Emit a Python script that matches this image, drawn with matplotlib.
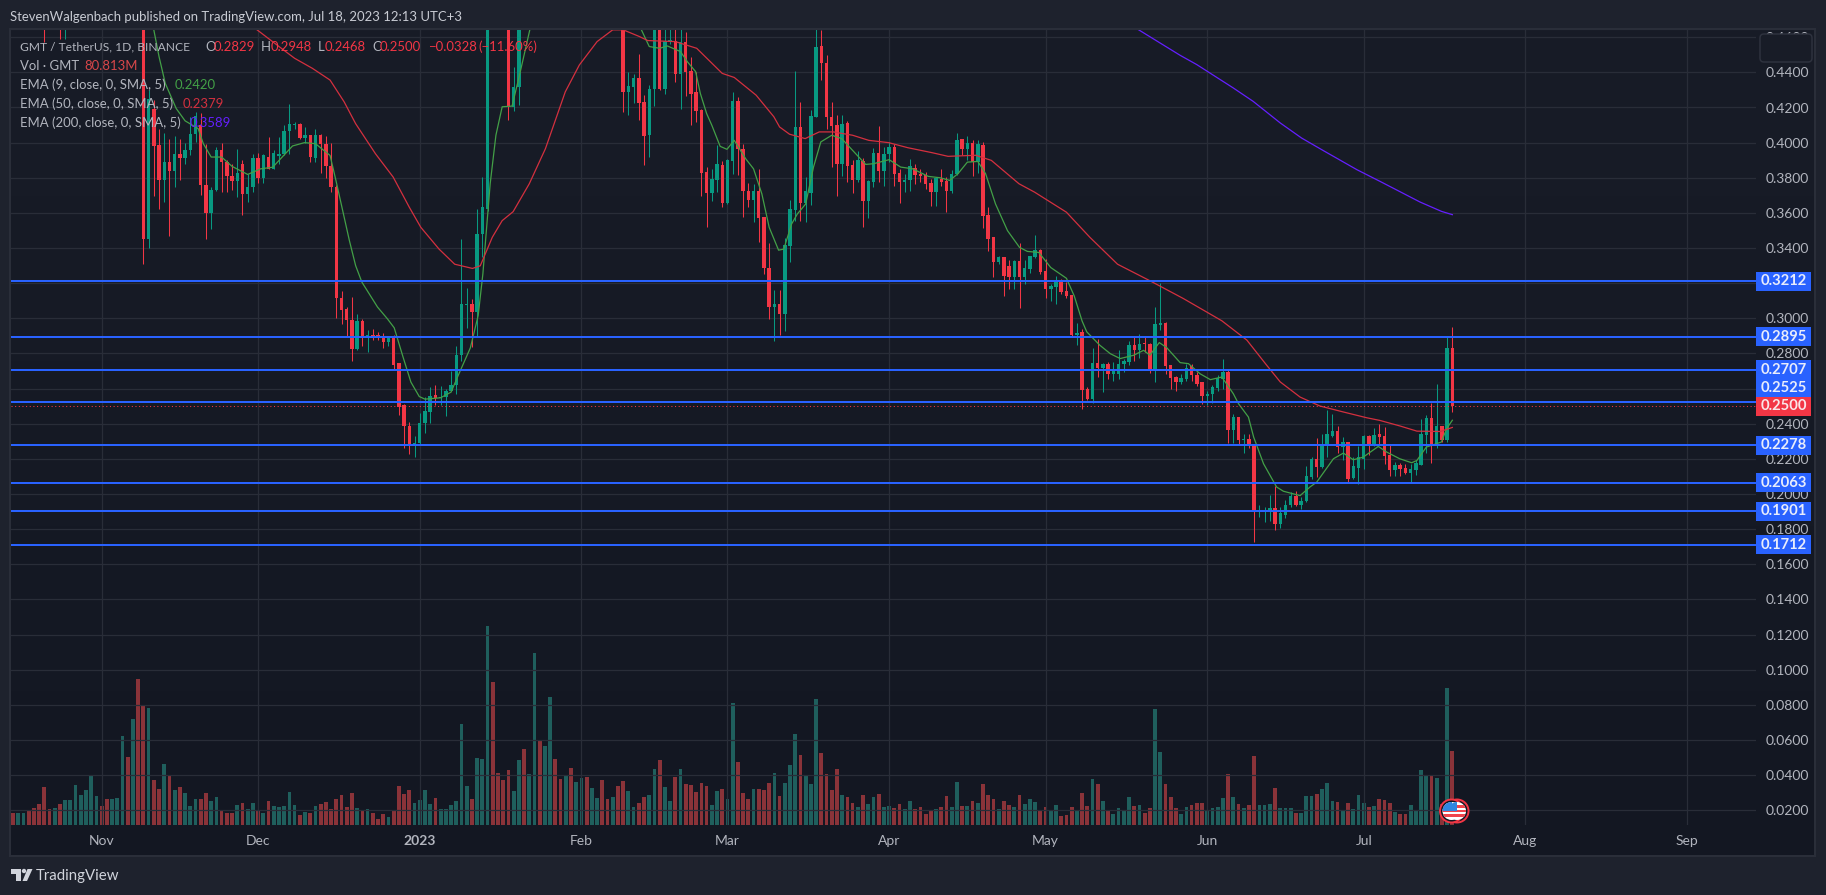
import numpy as np, pandas as pd
from matplotlib import pyplot as plt
from matplotlib import dates as mdates
from matplotlib.patches import Circle, Rectangle, Polygon, FancyBboxPatch
from matplotlib.transforms import IdentityTransform

# daily candles, price values above about 0.464 are out of the frame
opens = [.510,.500,.505,.512,.506,.498,.488,.478,.475,.480,
 .470,.476,.480,.485,.490,.495,.500,.505,.500,.495,
 .500,.505,.540,.530,.560,.520,.345,.4194,.3985,.3785,
 .389,.384,.3933,.391,.396,.405,.410,.376,.360,.3728,
 .396,.389,.381,.378,.388,.371,.3745,.391,.380,.392,
 .385,.3925,.3935,.4065,.410,.4105,.4027,.4042,.3914,.4042,
 .3995,.3867,.375,.3117,.3054,.2993,.2823,.2982,.289,.2906,
 .2905,.2887,.2864,.2893,.2743,.2504,.239,.2276,.2288,.2403,
 .2466,.2561,.2548,.2551,.2586,.2618,.2789,.3075,.3079,.3035,
 .348,.3622,.50,.49,.485,.48,.4204,.4314,.49,.48,
 .50,.53,.52,.54,.58,.56,.54,.56,.54,.56,
 .57,.55,.56,.57,.54,.52,.53,.49,.429,.4315,
 .4369,.4232,.4042,.4308,.468,.4305,.4575,.458,.439,.4575,
 .4408,.4286,.4185,.3834,.3712,.379,.387,.3655,.3893,.4236,
 .3966,.3727,.3676,.3722,.3575,.3289,.3066,.308,.3026,.3413,
 .3619,.4089,.3655,.3712,.4147,.455,.4451,.4147,.4099,.388,
 .4112,.387,.379,.3895,.3665,.3775,.3943,.3836,.3933,.3975,
 .3827,.3775,.3785,.3857,.3819,.3813,.3769,.3718,.3794,.3779,
 .3722,.3819,.4019,.3966,.3998,.3889,.3985,.359,.3465,.3318,
 .335,.3299,.3236,.3327,.3236,.328,.335,.3388,.327,.3166,
 .3181,.3207,.3156,.3131,.2903,.2923,.2596,.2543,.2746,.272,
 .2741,.2682,.2685,.274,.2752,.2847,.2822,.2862,.2856,.2714,
 .2961,.2974,.2733,.2666,.2636,.2656,.2727,.2676,.2636,.2556,
 .2571,.2604,.2657,.2695,.2362,.2438,.2309,.2311,.2281,.1895,
 .1896,.19,.1923,.183,.1883,.1935,.1986,.1938,.1963,.2096,
 .2197,.2153,.2286,.233,.2356,.2267,.2299,.2092,.2149,.22,
 .233,.2277,.2339,.2328,.222,.2134,.2163,.2147,.2121,.2134,
 .2168,.2334,.2434,.2277,.2385,.2305,.2829]
closes = [.500,.505,.512,.506,.498,.488,.478,.475,.480,.470,
 .476,.480,.485,.490,.495,.500,.505,.500,.495,.500,
 .505,.540,.530,.560,.520,.345,.425,.398,.3785,.389,
 .384,.3933,.3915,.396,.405,.415,.376,.360,.3728,.396,
 .389,.381,.378,.3826,.371,.3745,.391,.380,.393,.385,
 .394,.3935,.4065,.4105,.4108,.4027,.4042,.3918,.4042,.3995,
 .3867,.3747,.3114,.305,.2988,.2823,.2982,.2902,.2906,.2896,
 .2887,.2864,.2893,.2737,.2498,.2386,.2276,.2293,.2407,.247,
 .2559,.2548,.2555,.2589,.2623,.2789,.3079,.3079,.3035,.348,
 .3636,.50,.49,.485,.48,.4204,.4314,.49,.48,.50,
 .53,.52,.54,.58,.56,.54,.56,.54,.56,.57,
 .55,.56,.57,.54,.52,.53,.49,.429,.4322,.4369,
 .4227,.4038,.4308,.468,.4305,.458,.4585,.439,.4575,.44,
 .4276,.4179,.383,.3712,.3794,.3876,.3655,.3899,.4236,.3962,
 .3722,.3676,.3722,.3569,.3284,.3066,.308,.3026,.3417,.3623,
 .4089,.3655,.3722,.415,.4547,.4451,.4147,.4093,.388,.4105,
 .3867,.379,.3899,.3665,.3779,.3943,.3836,.3937,.3975,.3819,
 .3775,.3788,.3867,.3813,.3808,.3762,.3718,.3798,.3775,.3722,
 .3823,.4013,.3966,.3998,.3889,.399,.3585,.3451,.3318,.335,
 .3242,.3236,.3327,.3236,.3284,.3356,.3388,.3266,.3166,.3185,
 .3208,.315,.3127,.2903,.2916,.259,.2543,.2746,.272,.2741,
 .2682,.2701,.2742,.2755,.2847,.2822,.2856,.2856,.2714,.2967,
 .2974,.2727,.2661,.2636,.2661,.272,.2676,.2628,.2556,.2571,
 .2609,.2663,.2695,.2362,.2438,.2305,.2314,.2271,.1896,.19,
 .1906,.1923,.183,.1891,.194,.1986,.1938,.1963,.21,.2201,
 .2153,.2286,.2339,.2356,.2267,.2299,.2087,.2157,.221,.233,
 .2277,.2334,.2324,.2216,.2134,.2163,.214,.2121,.214,.2176,
 .2339,.2432,.2277,.2385,.2305,.2829,.25]
highs = [.515,.510,.517,.517,.511,.503,.49,.483,.485,.485,
 .481,.485,.49,.495,.50,.505,.51,.51,.505,.505,
 .51,.545,.545,.565,.565,.525,.43,.424,.408,.4055,
 .402,.404,.4023,.40,.4147,.4175,.417,.3995,.375,.3975,
 .3998,.39,.388,.3965,.39,.382,.3937,.394,.3935,.403,
 .396,.403,.41,.422,.4115,.411,.409,.4045,.4075,.405,
 .404,.40,.376,.3153,.3067,.3124,.3026,.2997,.2935,.294,
 .2921,.2917,.29,.2906,.2745,.2513,.2409,.2333,.2464,.2551,
 .2612,.2623,.2617,.2599,.2698,.284,.3453,.317,.311,.3625,
 .3804,.51,.505,.495,.49,.49,.4432,.50,.495,.505,
 .535,.535,.545,.585,.585,.565,.565,.565,.565,.575,
 .575,.565,.575,.575,.545,.535,.535,.50,.44,.439,
 .4505,.427,.4328,.48,.48,.47,.468,.469,.468,.4627,
 .449,.44,.419,.386,.3848,.3985,.3893,.3906,.4291,.4257,
 .3994,.3769,.3762,.3848,.3577,.3428,.3162,.3162,.3457,.3674,
 .4408,.4232,.3804,.4188,.465,.464,.4499,.4232,.4156,.4156,
 .4122,.3903,.3952,.3914,.3785,.3971,.4093,.3975,.4004,.3994,
 .3851,.3823,.3908,.388,.3851,.3832,.3794,.3804,.3848,.3804,
 .3846,.4057,.402,.4036,.4013,.4013,.4004,.3636,.3465,.3356,
 .335,.3331,.3331,.3428,.3331,.3356,.3476,.3394,.3337,.3194,
 .3242,.3223,.3204,.3135,.2972,.2938,.2609,.2834,.2881,.2743,
 .2752,.2752,.2818,.2771,.287,.2891,.2908,.2891,.2862,.3066,
 .3199,.298,.2735,.267,.2682,.2742,.2742,.2695,.2636,.2587,
 .2619,.2676,.2767,.2704,.2457,.2438,.2339,.2339,.2281,.194,
 .1925,.1997,.2043,.1925,.1967,.201,.202,.1982,.2157,.221,
 .2318,.2339,.2476,.2453,.2385,.2324,.2299,.221,.2271,.2334,
 .2334,.2378,.2396,.2381,.228,.2185,.2176,.2172,.2172,.2195,
 .2429,.2448,.252,.2628,.2385,.2895,.2948]
lows = [.495,.495,.50,.50,.493,.483,.4575,.47,.47,.4589,
 .4589,.47,.475,.48,.485,.49,.495,.495,.49,.49,
 .495,.50,.525,.525,.515,.3312,.3398,.3695,.362,.366,
 .3467,.375,.379,.388,.393,.4005,.37,.345,.3507,.3725,
 .372,.372,.3728,.369,.359,.366,.372,.377,.377,.385,
 .385,.388,.393,.3937,.408,.402,.40,.389,.389,.3826,
 .38,.372,.3003,.2969,.2893,.2756,.2817,.284,.2807,.2874,
 .2874,.283,.2845,.2707,.2447,.2261,.2227,.221,.2282,.2346,
 .2407,.2504,.2508,.2443,.2585,.2567,.2756,.2946,.2836,.2893,
 .335,.361,.475,.475,.475,.4128,.4181,.4213,.475,.475,
 .495,.515,.515,.535,.555,.535,.535,.535,.535,.555,
 .545,.545,.555,.535,.515,.515,.485,.4175,.4156,.4227,
 .4128,.387,.3918,.4208,.43,.4275,.456,.4345,.419,.4265,
 .41,.4118,.3699,.3518,.3665,.3718,.3632,.3648,.3823,.3813,
 .3575,.3632,.3547,.3432,.3251,.2998,.287,.2903,.2927,.3318,
 .3556,.3556,.3547,.3647,.4145,.4356,.408,.3861,.3699,.3808,
 .3775,.3712,.3775,.3522,.3571,.3747,.3775,.3756,.389,.3756,
 .3655,.3718,.3727,.3766,.3775,.3737,.3642,.3642,.3756,.3604,
 .3712,.3813,.3927,.3899,.3809,.3827,.3512,.3385,.3236,.3308,
 .3127,.3166,.3166,.3057,.3194,.326,.3343,.3251,.3118,.3099,
 .308,.3141,.3118,.2893,.2851,.2486,.2537,.2518,.2666,.2581,
 .2657,.2644,.2657,.2695,.2733,.2756,.2777,.2809,.2689,.2638,
 .2933,.2682,.2596,.2587,.2625,.2644,.2644,.2613,.251,.2505,
 .2518,.2587,.26,.2292,.229,.2282,.2233,.2261,.1725,.1868,
 .1839,.1849,.1796,.1807,.1862,.1925,.1934,.1912,.1953,.2086,
 .2096,.2149,.2208,.2324,.2233,.2191,.2062,.2087,.2058,.2144,
 .222,.2271,.228,.2172,.21,.21,.21,.2115,.2062,.2111,
 .2168,.2233,.2176,.2261,.2296,.2299,.2468]

# volume in millions
volumes = [13.1,13.1,13.1,16.4,18.6,22.9,41.5,17.5,18.6,22.9,
 27.3,27.3,43.7,32.8,38.2,54.6,31.7,20.7,28.4,28.4,
 29.5,97.2,74.3,115.8,159.4,131,127.8,49.1,39.3,66.6,
 53.5,38.2,41.5,34.9,20.7,28.4,28.4,34.9,26.2,30.6,
 15.3,13.1,13.1,21.8,24,17.5,24,15.3,13.1,26.2,
 20.7,19.7,20.7,36,21.8,10.9,14.2,13.1,20.7,22.9,
 25.1,17.5,28.4,32.8,19.7,34.9,18.6,15.3,17.5,13.1,
 6.6,12,8.7,16.4,42.6,33.9,38.2,24,27.3,38.2,
 22.9,29.5,17.5,17.5,21.8,26.2,110.3,42.6,28.4,73.2,
 72.1,217.3,156.2,56.8,49.1,60.1,37.1,71,83,55.7,
 187.8,91.7,86.3,139.8,72.1,50.2,54.6,62.2,47,51.3,
 52.4,40.4,29.5,49.1,28.4,30.6,42.6,
 48,37.1,19.7,24,30.6,32.8,61.2,71,41.5,26.2,
 52.4,61.2,44.8,43.7,36,45.9,42.6,21.8,37.1,39.3,
 28.4,133.2,68.8,34.9,28.4,39.3,39.3,38.2,45.9,56.8,
 31.7,45.9,65.5,99.4,76.4,53.5,44.8,137.6,78.6,55.7,
 38.2,61.2,32.8,30.6,24,19.7,32.8,22.9,30.6,33.9,
 19.7,20.7,18.6,22.9,17.5,26.2,17.5,19.7,12,15.3,
 17.5,19.7,31.7,19.7,47,20.7,20.7,26.2,24,44.8,
 32.8,28.4,17.5,26.2,21.8,19.7,32.8,22.9,28.4,25.1,
 15.3,19.7,15.3,21.8,9.8,10.9,19.7,15.3,34.9,20.7,
 50.2,44.8,26.2,15.3,12,18.6,16.4,30.6,20.7,21.8,
 13.1,18.6,126.7,79.7,44.8,30.6,18.6,12,19.7,21.8,
 24,24,16.4,18.6,19.7,29.5,55.7,30.6,22.9,
 18.6,21.8,75.3,21.8,21.8,22.9,40.4,18.6,18.6,18.6,
 13.1,13.1,31.7,31.7,33.9,39.3,45.9,26.2,25.1,16.4,
 24,17.5,32.8,24,19.7,20.7,28.4,27.3,24,14.2,
 12,12,21.8,16.4,60.1,54.6,54.6,51.3,22.9,149.6,80.8]
assert len(opens) == len(closes) == len(highs) == len(lows) == len(volumes) == 277

ema9_idx = [27,28,29.2,31.3,33,35.5,36.5,38,40,42,45,47.5,49.8,51.3,53.6,55.9,58,60.8,62,63.5,64.5,65.7,66.9,
 69.9,71.8,73.1,74.8,76.3,77.9,79,82,84,85.5,87.7,89.2,90.1,91.5,92.6,93.8,95.7,97.2,99.1,105,115,
 120.5,122,124,125.5,128,129.3,130.9,131.8,133,134,135.6,136.9,138.3,140.5,142,143.6,145,146.8,147.8,149.3,150.4,152,
 153.5,154.9,157,158.9,161,163.5,165,168,170.2,172.5,175.5,177.8,179.6,181.2,183,185,186.5,188.4,190.7,193,194.5,196.7,
 199,202,203.5,205,205.9,208.4,210.4,212.3,214.9,216.8,218,219.8,221.2,223.8,225.4,227.6,229.6,231.8,234,235,236.9,237.9,
 239.8,242.3,243.6,246.8,248.7,250,253.2,255.1,257,258.9,261.8,263.4,265.9,268.2,269.2,271,273.9,274.9,276]
ema9_val = [.4642,.449,.4337,.4194,.4124,.408,.3994,.3918,.3918,.3865,.3819,.3851,.386,.3908,.3981,.4,.3994,.3927,.3775,.3575,.3443,.33,.3206,
 .3064,.2997,.2946,.2779,.2637,.2555,.254,.2548,.258,.2684,.2832,.3016,.3253,.3766,.4042,.4204,.4208,.4394,.4642,.50,.50,
 .4642,.4547,.4537,.455,.4518,.4461,.4404,.428,.4166,.4099,.3979,.3962,.4013,.3908,.3851,.3708,.3518,.3388,.3394,.3537,.3594,.3651,
 .3861,.4004,.4042,.4023,.3956,.3876,.388,.3903,.3861,.3851,.3808,.38,.3785,.3823,.3889,.3893,.3823,.3651,.3499,.3404,.3381,.3375,
 .3289,.3228,.3127,.2985,.2923,.2847,.2799,.2771,.279,.2818,.279,.2862,.2834,.2748,.2742,.2685,.2651,.2666,.2571,.2514,.2438,.2324,
 .2172,.204,.2016,.1991,.204,.2068,.2201,.2233,.2195,.221,.2271,.2239,.2201,.2178,.2191,.2267,.2296,.2372,.242]

ema50_idx = [46.8,50.6,54,57.4,60.8,63.5,65.7,69.5,72.9,76,78.2,81.7,84.7,88.1,89.6,91.9,93.8,95.9,99,102.1,105.9,108.6,112,115,
 117,120.1,121.7,127,131.1,136,138.3,142.5,145.9,147,148.9,151.9,154.6,157.3,161,164.1,167.9,171.6,176.2,179.3,184.6,187.6,192.9,195.9,202,206.5,211.8,
 218,224.4,231.8,236.6,240.4,243,246.8,250.6,255.1,259.6,262.1,266,269.2,273.7,276]
ema50_val = [.4642,.4556,.448,.4423,.4356,.4232,.4108,.3937,.3804,.3632,.3518,.3394,.3308,.3284,.3299,.3461,.3556,.3607,.3766,.3966,.4289,.4442,.4575,.4642,
 .4642,.4604,.4581,.4575,.4537,.4394,.4371,.427,.4147,.4089,.4048,.4023,.4061,.4061,.4042,.4013,.40,.3971,.3943,.3922,.3928,.3899,.3766,.3718,.3604,.3461,.3308,
 .3214,.3113,.2986,.2876,.2733,.2638,.2552,.2501,.2467,.2434,.2419,.2387,.2358,.2356,.2379]

ema200_idx = [215.8,223.8,227,234,237.8,243,247.1,251.3,257.7,262.1,269.8,273.9,276]
ema200_val = [.4643,.4497,.4444,.4311,.4235,.4112,.4026,.3954,.3846,.378,.3662,.3609,.359]

level_prices = [.3212,.2895,.2707,.2525,.2278,.2063,.1901,.1712]
last_price = .25
level_label_y = [.3212,.2895,.2707,.2606,.2278,.2063,.1901,.1712]
price_ticks = [.02,.04,.06,.08,.10,.12,.14,.16,.18,.20,.22,.24,.26,.28,.30,.32,.34,.36,.38,.40,.42,.44,.46]
covered_ticks = [.26,.32]
month_ticks = ['2022-11-01','2022-12-01','2023-01-01','2023-02-01','2023-03-01','2023-04-01','2023-05-01','2023-06-01','2023-07-01','2023-08-01','2023-09-01']
month_labels = ['Nov','Dec','2023','Feb','Mar','Apr','May','Jun','Jul','Aug','Sep']

UP, DOWN = '#089981', '#f23645'
VOL_UP, VOL_DOWN = '#1f5f5d', '#8a3339'
BLUE = '#2962ff'
FRAME, EDGE, GRID = '#1e222d', '#2a2e39', '#292d38'
TXT = '#b2b5be'
W, H = 1826, 895

plt.rcParams['font.family'] = ['Lato', 'DejaVu Sans']
fig = plt.figure(figsize=((W + 0.01) / 100, (H + 0.01) / 100), dpi=100, facecolor=FRAME)

def box(l, t, r, b):
    return [l / W, 1 - b / H, (r - l) / W, (b - t) / H]

def put(x, y, s, color=TXT, size=13.1, **kw):
    fig.text(x / W, 1 - y / H, s, color=color, fontsize=size * 0.72, va='center', zorder=8, **kw)

# pane background, slightly lighter at the top
bg = fig.add_axes(box(10, 29, 1815, 856), zorder=-1)
bg.imshow(np.linspace(0, 1, 256)[:, None], aspect='auto', cmap=plt.matplotlib.colors.LinearSegmentedColormap.from_list('pane', ['#181c27', '#131722']))
bg.set_xticks([]); bg.set_yticks([])
for s in bg.spines.values():
    s.set_color(EDGE); s.set_linewidth(1.5)

start = mdates.date2num(pd.Timestamp('2022-10-15'))
x = start + np.arange(len(opens))
xlim = (start + (11 - 13) / 5.215, start + (1756 - 13) / 5.215)
ylim = (.02 - (825 - 810.3) / 1757, .02 + (810.3 - 30) / 1757)

opens, closes, highs, lows, volumes = map(np.array, (opens, closes, highs, lows, volumes))
is_up = closes >= opens

vol = fig.add_axes(box(11, 30, 1756, 825), zorder=1)
vol.patch.set_alpha(0)
vol.bar(x, volumes, width=0.72, color=np.where(is_up, VOL_UP, VOL_DOWN), linewidth=0)
vol.set_xlim(*xlim)
vol.set_ylim(0, 795 * 1.092)
vol.axis('off')

ax = fig.add_axes(box(11, 30, 1756, 825), zorder=2)
ax.patch.set_alpha(0)
ax.set_xlim(*xlim)
ax.set_ylim(*ylim)
for s in ax.spines.values():
    s.set_visible(False)
ax.yaxis.tick_right()
ax.set_yticks(price_ticks)
ax.set_yticklabels(['' if p in covered_ticks else '%.4f' % p for p in price_ticks])
ax.set_xticks([mdates.date2num(pd.Timestamp(d)) for d in month_ticks])
ax.set_xticklabels(month_labels)
ax.tick_params(length=0, colors=TXT, labelsize=10)
ax.tick_params(axis='x', pad=7)
ax.tick_params(axis='y', pad=7)
ax.get_xticklabels()[2].set_fontweight('bold')
ax.grid(True, color=GRID, lw=0.9, zorder=0)
ax.set_axisbelow(True)

colors = np.where(is_up, UP, DOWN)
ax.vlines(x, lows, highs, colors=colors, lw=0.75, zorder=2)
ax.bar(x, np.abs(closes - opens), bottom=np.minimum(opens, closes), width=0.66, color=colors, linewidth=0, zorder=2.1)

ax.plot(start + np.array(ema9_idx), ema9_val, color='#43a047', lw=0.9, zorder=3)
ax.plot(start + np.array(ema50_idx), ema50_val, color='#d4303f', lw=0.9, zorder=3)
ax.plot(start + np.array(ema200_idx), ema200_val, color='#651fff', lw=0.9, zorder=3)

for p in level_prices:
    ax.axhline(p, color=BLUE, lw=1.45, zorder=4)
ax.axhline(last_price, color=DOWN, lw=0.75, ls=(0, (1, 2.5)), zorder=4)

# right hand price labels
lab_w, lab_h = 55 / 1745, 19 / 1757
trans = ax.get_yaxis_transform()
for p, y in zip(level_prices, level_label_y):
    ax.add_patch(Rectangle((1, y - lab_h / 2), lab_w, lab_h, transform=trans, color=BLUE, lw=0, clip_on=False, zorder=6))
    ax.text(1 + lab_w / 2, y, '%.4f' % p, transform=trans, color='#e8ecfb', fontsize=10.6, fontweight='bold', ha='center', va='center', clip_on=False, zorder=7)
ax.add_patch(Rectangle((1, last_price - lab_h / 2), lab_w, lab_h, transform=trans, color=DOWN, lw=0, clip_on=False, zorder=6))
ax.text(1 + lab_w / 2, last_price, '%.4f' % last_price, transform=trans, color='#fbe6e8', fontsize=10.6, fontweight='bold', ha='center', va='center', clip_on=False, zorder=7)

# empty button at the top of the price scale
px = IdentityTransform()
fig.add_artist(FancyBboxPatch((1760, H - 62), 52, 28, boxstyle='round,pad=0,rounding_size=4', transform=px, fc='#181c27', ec='#2e323e', lw=1.1, zorder=7))

# header and legend text
put(10, 17, 'StevenWalgenbach published on TradingView.com, Jul 18, 2023 12:13 UTC+3', color='#c8cbd3')
put(20, 46.5, 'GMT / TetherUS, 1D, BINANCE', size=12)
for xp, s in [(205, 'O'), (261, 'H'), (317.5, 'L'), (372, 'C')]:
    put(xp, 46.5, s)
for xp, s in [(214, '0.2829'), (271, '0.2948'), (325, '0.2468'), (380, '0.2500'), (428, '\u22120.0328'), (478, '(\u221211.60%)')]:
    put(xp, 46.5, s, color=DOWN)
put(20, 65.5, 'Vol \u00b7 GMT')
put(84.5, 65.5, '80.813M', color='#d8474a')
put(20, 84.5, 'EMA (9, close, 0, SMA, 5)')
put(175, 84.5, '0.2420', color='#43a047')
put(20, 103.5, 'EMA (50, close, 0, SMA, 5)')
put(182.5, 103.5, '0.2379', color='#d4303f')
put(20, 122.5, 'EMA (200, close, 0, SMA, 5)')
put(190, 122.5, '0.3589', color='#651fff')

# economic event flags on the last bars
for cx in (1457, 1451.5):
    cy = H - 811
    fig.add_artist(Circle((cx, cy), 11.5, transform=px, fc='#131722', ec=DOWN, lw=1.4, zorder=7))
    disc = Circle((cx, cy), 9, transform=px, fc='white', ec='none', zorder=7.1)
    fig.add_artist(disc)
    for dy in (4.5, 0, -4.5):
        st = Rectangle((cx - 10, cy + dy - 1.2), 20, 2.4, transform=px, fc='#f0444c', ec='none', zorder=7.2)
        fig.add_artist(st)
        st.set_clip_path(disc)
    cant = Rectangle((cx - 10, cy), 10, 10, transform=px, fc='#2f86e0', ec='none', zorder=7.3)
    fig.add_artist(cant)
    cant.set_clip_path(disc)

# logo
for shape in ([(11, 869), (21, 869), (21, 881), (15.5, 881), (15.5, 873.5), (11, 873.5)], [(27.5, 869), (32.5, 869), (27, 881), (22.5, 881)]):
    fig.add_artist(Polygon([(a, H - b) for a, b in shape], transform=px, fc='#d1d4dc', ec='none', zorder=7))
fig.add_artist(Circle((24, H - 871), 2.2, transform=px, fc='#d1d4dc', ec='none', zorder=7))
put(36, 876, 'TradingView', color='#d1d4dc', size=15)

fig.savefig('out.png', dpi=100, facecolor=FRAME)
